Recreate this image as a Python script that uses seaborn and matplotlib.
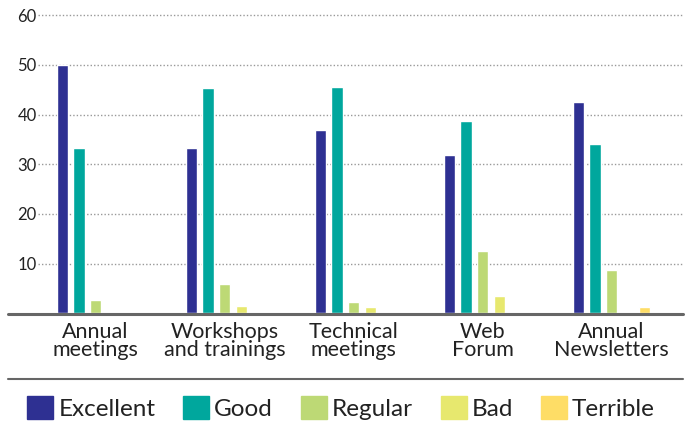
import numpy as np
import pandas as pd
import seaborn as sns
import matplotlib.pyplot as plt
from matplotlib.lines import Line2D

# data
channels = ["Annual\nmeetings", "Workshops\nand trainings", "Technical\nmeetings",
            "Web\nForum", "Annual\nNewsletters"]
ratings = ["Excellent", "Good", "Regular", "Bad", "Terrible"]
excellent = [50.0, 33.3, 36.9, 31.9, 42.5]
good = [33.3, 45.3, 45.5, 38.7, 34.1]
regular = [2.7, 5.9, 2.3, 12.5, 8.7]
bad = [0.0, 1.5, 1.3, 3.5, 0.0]
terrible = [0.0, 0.0, 0.0, 0.0, 1.3]
colors = ["#2E3092", "#00A79D", "#BDD975", "#E7E86E", "#FEDD66"]

series = [excellent, good, regular, bad, terrible]
rows = []
for r, vals in zip(ratings, series):
    for c, v in zip(channels, vals):
        rows.append({"channel": c, "rating": r, "value": v})
df = pd.DataFrame(rows)

sns.set_style("white")
plt.rcParams["font.family"] = ["Lato", "DejaVu Sans"]
txt = "#222222"

fig = plt.figure(figsize=(6.91, 4.25), dpi=100)
ax = fig.add_axes([38 / 691, 1 - 313.3 / 425, (683 - 38) / 691, (313.3 - 12.8) / 425])

sns.barplot(data=df, x="channel", y="value", hue="rating", palette=colors,
            order=channels, hue_order=ratings, width=0.64, gap=0.33,
            saturation=1, ax=ax)
ax.get_legend().remove()

ax.set_ylim(0, 60.5)
ax.set_xlim(-0.446, 4.554)
ax.set_yticks([10, 20, 30, 40, 50, 60])
ax.yaxis.grid(True, linestyle=(0, (1, 1.5)), color="#999999", linewidth=1)
ax.set_axisbelow(True)
for s in ax.spines.values():
    s.set_visible(False)
ax.tick_params(axis="y", length=0, pad=1, labelsize=12, labelcolor=txt)
ax.tick_params(axis="x", length=0, pad=6, labelsize=15.5, labelcolor=txt)
for lab in ax.get_xticklabels():
    lab.set_linespacing(0.9)
ax.set_xlabel("")
ax.set_ylabel("")

# baseline and separator lines
fig.add_artist(Line2D([8 / 691, 683 / 691], [1 - 314 / 425] * 2, color="#666666", lw=2.2))
fig.add_artist(Line2D([8 / 691, 683 / 691], [1 - 379 / 425] * 2, color="#666666", lw=1.5))

handles = [plt.Rectangle((0, 0), 1, 1, color=c) for c in colors]
fig.legend(handles, ratings, loc="center", bbox_to_anchor=(341 / 691, 1 - 408 / 425),
           ncol=5, frameon=False, fontsize=17.5, handlelength=1.07, handleheight=1.07,
           handletextpad=0.2, columnspacing=1.15, labelcolor=txt, borderaxespad=0)

fig.savefig("out.png", dpi=100)
